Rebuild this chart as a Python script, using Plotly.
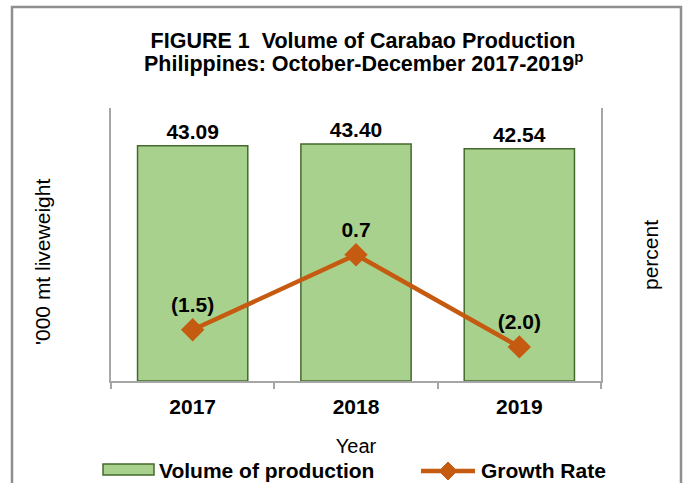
import plotly.graph_objects as go

years = ["2017", "2018", "2019"]
volume = [43.09, 43.40, 42.54]
growth = [-1.5, 0.7, -2.0]

FONT = "Arial, Liberation Sans, sans-serif"
BAR_FILL = "#A9D18E"
BAR_EDGE = "#44692E"
LINE_COLOR = "#C55A11"
AXIS_GRAY = "#a6a6a6"

# plot area in pixels: x 111..601, y 108..381
L, R, T, B = 111, 87, 108, 102
PW, PH = 688 - L - R, 483 - T - B


def px_x(p):
    return (p - L) / PW


def px_y(p):
    return (483 - B - p) / PH


def fmt_growth(v):
    return f"({abs(v):.1f})" if v < 0 else f"{v:.1f}"


fig = go.Figure()
fig.add_trace(
    go.Bar(
        x=years,
        y=volume,
        name="Volume of production",
        marker=dict(color=BAR_FILL, line=dict(color=BAR_EDGE, width=1.5)),
        width=0.675,
        text=[f"{v:.2f}" for v in volume],
        textposition="outside",
        textfont=dict(family=FONT, size=21, color="#000000", weight="bold"),
        cliponaxis=False,
        showlegend=False,
    )
)
fig.add_trace(
    go.Scatter(
        x=years,
        y=growth,
        name="Growth Rate",
        yaxis="y2",
        mode="lines+markers+text",
        line=dict(color=LINE_COLOR, width=4.5),
        marker=dict(symbol="diamond", size=18, color=LINE_COLOR),
        text=[fmt_growth(v) for v in growth],
        textposition="top center",
        textfont=dict(family=FONT, size=21, color="#000000", weight="bold"),
        cliponaxis=False,
        showlegend=False,
    )
)

title_font = dict(family=FONT, size=21.5, color="#000000", weight="bold")
plain_font = dict(family=FONT, size=21, color="#000000")
legend_font = dict(family=FONT, size=21, color="#000000", weight="bold")

# legend drawn by hand so the swatches match the original's wide keys
lx_bar0, lx_bar1 = px_x(103), px_x(154)
ly_bar0, ly_bar1 = px_y(475), px_y(464)
lx_line0, lx_line1, lx_dia = px_x(421), px_x(475), px_x(448)
ly_line = px_y(471)
ddx, ddy = 9 / PW, 9 / PH
diamond = (
    f"M {lx_dia - ddx} {ly_line} L {lx_dia} {ly_line + ddy} "
    f"L {lx_dia + ddx} {ly_line} L {lx_dia} {ly_line - ddy} Z"
)

fig.update_layout(
    width=688,
    height=483,
    paper_bgcolor="#ffffff",
    plot_bgcolor="#ffffff",
    margin=dict(l=L, r=R, t=T, b=B, autoexpand=False),
    font=dict(family=FONT, color="#000000", size=21),
    showlegend=False,
    title=dict(
        text="FIGURE 1  Volume of Carabao Production",
        x=px_x(363),
        xanchor="center",
        xref="paper",
        y=1 - 40 / 483,
        yanchor="middle",
        font=title_font,
    ),
    shapes=[
        dict(
            type="rect", xref="paper", yref="paper",
            x0=px_x(12), x1=px_x(681), y0=-0.45, y1=px_y(7),
            line=dict(color="#8f8f8f", width=2.5), layer="below",
        ),
        dict(
            type="rect", xref="paper", yref="paper",
            x0=lx_bar0, x1=lx_bar1, y0=ly_bar0, y1=ly_bar1,
            fillcolor=BAR_FILL, line=dict(color=BAR_EDGE, width=1.5),
        ),
        dict(
            type="line", xref="paper", yref="paper",
            x0=lx_line0, x1=lx_line1, y0=ly_line, y1=ly_line,
            line=dict(color=LINE_COLOR, width=4.5),
        ),
        dict(
            type="path", xref="paper", yref="paper", path=diamond,
            fillcolor=LINE_COLOR, line=dict(color=LINE_COLOR, width=1),
        ),
    ],
    annotations=[
        dict(
            text="Philippines: October-December 2017-2019<sup>p</sup>",
            xref="paper", yref="paper", x=px_x(363), y=px_y(62),
            xanchor="center", yanchor="middle", showarrow=False, font=title_font,
        ),
        dict(
            text="'000 mt liveweight",
            xref="paper", yref="paper", x=px_x(42), y=px_y(262),
            xanchor="center", yanchor="middle", textangle=-90,
            showarrow=False, font=plain_font,
        ),
        dict(
            text="percent",
            xref="paper", yref="paper", x=px_x(650), y=px_y(255),
            xanchor="center", yanchor="middle", textangle=-90,
            showarrow=False, font=plain_font,
        ),
        dict(
            text="Volume of production",
            xref="paper", yref="paper", x=px_x(157), y=px_y(470),
            xanchor="left", yanchor="middle", showarrow=False, font=legend_font,
        ),
        dict(
            text="Growth Rate",
            xref="paper", yref="paper", x=px_x(479), y=px_y(470),
            xanchor="left", yanchor="middle", showarrow=False, font=legend_font,
        ),
    ],
)

fig.update_xaxes(
    showline=True,
    linecolor=AXIS_GRAY,
    linewidth=2,
    ticks="outside",
    tickson="boundaries",
    ticklen=6,
    tickwidth=2,
    tickcolor=AXIS_GRAY,
    ticklabelstandoff=6,
    tickfont=dict(family=FONT, size=21, color="#000000", weight="bold"),
    title=dict(text="Year", standoff=22, font=dict(family=FONT, size=20, color="#000000")),
    showgrid=False,
    zeroline=False,
)
fig.update_layout(
    yaxis=dict(
        range=[0, 50],
        showline=True,
        linecolor=AXIS_GRAY,
        linewidth=2,
        showticklabels=False,
        ticks="",
        showgrid=False,
        zeroline=False,
    ),
    yaxis2=dict(
        range=[-3, 5],
        overlaying="y",
        side="right",
        showline=True,
        linecolor=AXIS_GRAY,
        linewidth=2,
        showticklabels=False,
        ticks="",
        showgrid=False,
        zeroline=False,
    ),
)

fig.write_html(
    "out.html",
    config={"displayModeBar": False},
    post_script="document.body.style.margin='0';",
)
